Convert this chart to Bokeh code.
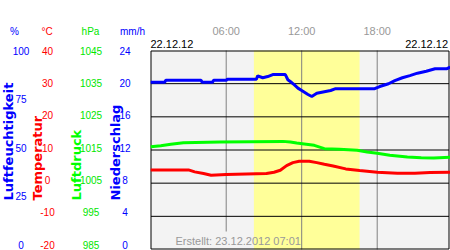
import math
from bokeh.plotting import figure
from bokeh.models import Range1d
from bokeh.embed import file_html
from bokeh.resources import INLINE
from bokeh.core.properties import value

# ---------------- data ----------------
hum_t = [0, 1.1, 1.2, 4.0, 4.1, 4.9, 5.0, 6.0, 6.1, 8.4, 8.5, 8.9, 9.3, 9.7, 10.7,
         10.9, 11.2, 11.4, 11.7, 12.0, 12.5, 12.8, 13.2, 14.3, 14.7, 17.8, 18.2,
         18.9, 19.4, 20.0, 20.6, 21.2, 21.9, 22.6, 23.5, 23.8]
hum = [84.0, 84.0, 85.0, 85.0, 84.0, 84.0, 85.0, 85.0, 85.6, 85.6, 87.3, 86.3, 86.9,
       87.9, 87.9, 85.3, 83.9, 82.8, 81.1, 79.9, 77.9, 76.9, 78.5, 79.9, 80.8, 80.8,
       81.9, 83.3, 84.9, 86.3, 87.4, 88.6, 89.6, 90.8, 90.8, 91.6]

temp_t = [0, 3.0, 3.5, 4.2, 4.8, 6.0, 9.2, 9.8, 10.3, 10.8, 11.3, 11.8, 12.6, 13.2,
          13.8, 14.5, 15.5, 16.6, 18.0, 19.6, 21.0, 22.2, 23.8]
temp = [4.0, 4.0, 3.4, 2.9, 2.4, 2.6, 2.9, 3.3, 3.9, 5.3, 6.2, 6.6, 6.6, 6.2, 5.7,
        5.2, 4.3, 3.8, 3.3, 3.0, 3.0, 3.2, 3.3]

pres_t = [0, 0.8, 1.6, 2.6, 5.5, 8.0, 10.5, 11.1, 11.6, 12.2, 13.0, 13.8, 15.0,
          16.4, 17.2, 18.0, 19.0, 20.4, 21.5, 22.5, 23.8]
pres = [1016.0, 1016.3, 1016.7, 1017.2, 1017.4, 1017.5, 1017.6, 1017.4, 1017.1,
        1016.8, 1016.4, 1015.4, 1015.2, 1014.9, 1014.4, 1014.0, 1013.4, 1012.9,
        1012.7, 1012.6, 1012.8]

hum_ticks = ["100", "75", "50", "25", "0"]
temp_ticks = ["40", "30", "20", "10", "0", "-10", "-20"]
pres_ticks = ["1045", "1035", "1025", "1015", "1005", "995", "985"]
rain_ticks = ["24", "20", "16", "12", "8", "4", "0"]
rain_grid = [4, 8, 12, 16, 20]

time_ticks = [6, 12, 18]
time_labels = ["06:00", "12:00", "18:00"]
date_label = "22.12.12"
created = "Erstellt: 23.12.2012 07:01"
sunrise, sunset = 8.2, 16.6

# ---------------- layout ----------------
W, H = 450, 250
FT, FB = 50.0, 249.0          # pixel rows of top / bottom values
FL, FR = 150.5, 448.5         # frame border columns
X0, X24 = 150.2, 452.2        # pixel columns of 0h and 24h

BLUE, RED, GREEN = "#0000ff", "#ff0000", "#00ff00"
GREEN_T = "#00e600"
GRAY_T = "#999999"
FONT = value("Liberation Sans")


def vrange(lo, hi):
    s = (FB - FT) / (hi - lo)
    return Range1d(lo - (H - FB) / s, hi + FT / s)


spx = (X24 - X0) / 24.0

p = figure(width=W, height=H, x_range=Range1d(0, W), y_range=Range1d(H, 0),
           min_border=0, toolbar_location=None, output_backend="svg",
           x_axis_location=None, y_axis_location=None)
p.grid.visible = False
p.outline_line_color = None
p.background_fill_color = "white"
p.border_fill_color = "white"

p.extra_x_ranges = {"t": Range1d(-X0 / spx, (W - X0) / spx)}
p.extra_y_ranges = {
    "hum": vrange(0, 100),
    "temp": vrange(-20, 40),
    "pres": vrange(985, 1045),
    "rain": vrange(0, 24),
}

# backgrounds
p.quad(left=[FL], right=[FR], bottom=[FB], top=[FT], fill_color="#f3f3f3", line_color=None)
p.quad(left=[sunrise], right=[sunset], bottom=[0], top=[24], x_range_name="t",
       y_range_name="rain", fill_color="#ffff99", line_color=None)

# vertical time lines (06:00 stops above the "Erstellt" note)
vb = [231.0 if t * spx + X0 < 300 and t * spx + X0 > 170 else FB for t in time_ticks]
p.segment(x0=time_ticks, x1=time_ticks, y0=vb, y1=[FT] * len(time_ticks),
          x_range_name="t", line_color="#808080", line_width=1)

# horizontal grid
p.segment(x0=[FL] * len(rain_grid), x1=[FR] * len(rain_grid), y0=rain_grid, y1=rain_grid,
          y_range_name="rain", line_color="black", line_width=1)

# border
p.quad(left=[FL], right=[FR], bottom=[FB - 0.5], top=[FT + 0.5], fill_color=None,
       line_color="black", line_width=1)

# series
p.line(pres_t, pres, x_range_name="t", y_range_name="pres", line_color=GREEN, line_width=3)
p.line(temp_t, temp, x_range_name="t", y_range_name="temp", line_color=RED, line_width=3)
p.line(hum_t, hum, x_range_name="t", y_range_name="hum", line_color=BLUE, line_width=3)

# top labels
p.text(x=time_ticks, y=[30] * 3, text=time_labels, x_range_name="t", text_font=FONT,
       text_font_size="11px", text_color=GRAY_T, text_align="center", text_baseline="middle")
p.text(x=[150], y=[43], text=[date_label], text_font=FONT, text_font_size="11px",
       text_color="black", text_align="left", text_baseline="middle")
p.text(x=[447.5], y=[43], text=[date_label], text_font=FONT, text_font_size="11px",
       text_color="black", text_align="right", text_baseline="middle")
p.text(x=[175], y=[240], text=[created], text_font=FONT, text_font_size="11px",
       text_color=GRAY_T, text_align="left", text_baseline="middle")

# headers
p.text(x=[14, 46.5, 90, 132], y=[31] * 4, text=["%", "°C", "hPa", "mm/h"], text_font=FONT,
       text_font_size="10px", text_color=[BLUE, RED, GREEN_T, BLUE], text_align="center",
       text_baseline="middle")


def tick_col(labels, xc, color):
    n = len(labels)
    ys = [50 + i * 194.0 / (n - 1) for i in range(n)]
    p.text(x=[xc] * n, y=ys, text=labels, text_font=FONT, text_font_size="10px",
           text_color=color, text_align="center", text_baseline="middle")


tick_col(hum_ticks, 20.5, BLUE)
tick_col(temp_ticks, 47, RED)
tick_col(pres_ticks, 90.5, GREEN_T)
tick_col(rain_ticks, 124.5, BLUE)

# rotated axis titles
p.text(x=[7.5, 36.5, 75.5, 114.5], y=[200, 200, 200, 200],
       text=["Luftfeuchtigkeit", "Temperatur", "Luftdruck", "Niederschlag"],
       angle=math.pi / 2, text_font=value("DejaVu Sans"), text_font_style="bold",
       text_font_size="13px", text_color=[BLUE, RED, GREEN, BLUE],
       text_align="left", text_baseline="alphabetic")

open("out.html", "w").write(file_html(p, INLINE))
